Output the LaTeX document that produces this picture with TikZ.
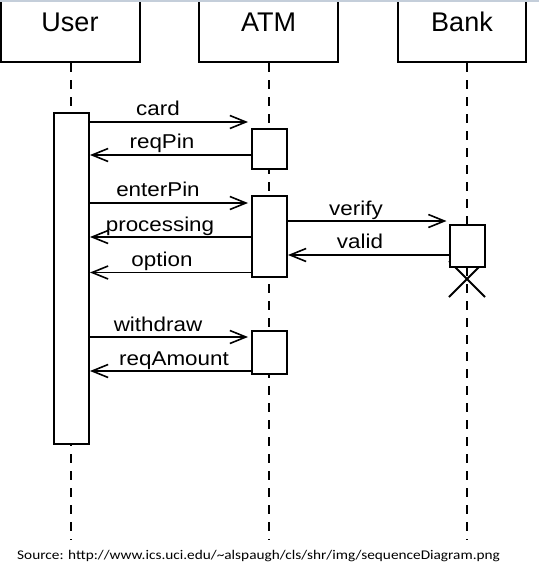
\documentclass[tikz,border=0pt]{standalone}
\usepackage{fontspec}
\setmainfont{Liberation Sans}
\newfontfamily\lblfont[FakeStretch=1.12]{Liberation Sans}
\newfontfamily\srcfont[FakeStretch=1.15]{Carlito}
\usetikzlibrary{arrows.meta}
\definecolor{topline}{RGB}{196,206,218}

\begin{document}
\begin{tikzpicture}[x=1pt,y=-1pt,
	obj/.style={draw, line width=2pt, minimum height=76pt, anchor=south, inner sep=0pt,
		font=\fontsize{27}{31}\selectfont, text depth=4pt},
	act/.style={draw, fill=white, line width=2pt, minimum width=35pt, inner sep=0pt},
	life/.style={line width=1.8pt, dash pattern=on 9pt off 8pt},
	msg/.style={line width=1.6pt, -{Straight Barb[length=16pt,width=13pt,line width=1.6pt]}},
	lbl/.style={anchor=base, inner sep=0pt, font=\lblfont\fontsize{20}{23}\selectfont}]
	\useasboundingbox (0,0) rectangle (539,563);
	\clip (0,0) rectangle (539,563);

	%obiekty
	\node[obj, minimum width=139pt] (user) at (70,63) {User};
	\node[obj, minimum width=139pt] (atm) at (268.5,63) {ATM};
	\node[obj, minimum width=128pt] (bank) at (462,63) {Bank};
	\draw[topline, line width=1.5pt] (0,0.75) -- (539,0.75);

	%linie zycia
	\coordinate (uend) at (71,540);
	\coordinate (aend) at (269,540);
	\coordinate (bend) at (467,540);
	\foreach \n/\e in {user/uend, atm/aend, bank/bend}
		\draw[life] (\e |- \n.south) -- (\e);

	%zniszczenie
	\draw[line width=1.8pt] (449,261) -- (485,297) (485,261) -- (449,297);

	%aktywacje
	\node[act, minimum height=331pt] (uact) at (71.5,278.5) {};
	\node[act, minimum height=40pt] (atm1) at (269.5,149) {};
	\node[act, minimum height=81pt] (atm2) at (269.5,236.5) {};
	\node[act, minimum height=43pt] (atm3) at (269.5,352.5) {};
	\node[act, minimum height=42pt] (bact) at (467,246) {};

	%komunikaty
	\draw[msg, shorten >=3pt] (uact.east |- 0,122) -- (atm1.west |- 0,122);
	\draw[msg] (atm1.west |- 0,155) -- (uact.east |- 0,155);
	\draw[msg, shorten >=3pt] (uact.east |- 0,203) -- (atm2.west |- 0,203);
	\draw[msg] (atm2.west |- 0,237) -- (uact.east |- 0,237);
	\draw[msg] (atm2.west |- 0,272.5) -- (uact.east |- 0,272.5);
	\draw[msg, shorten >=2pt] (atm2.east |- 0,221) -- (bact.west |- 0,221);
	\draw[msg] (bact.west |- 0,255) -- (atm2.east |- 0,255);
	\draw[msg, shorten >=3pt] (uact.east |- 0,337) -- (atm3.west |- 0,337);
	\draw[msg] (atm3.west |- 0,371) -- (uact.east |- 0,371);

	%etykiety
	\node[lbl] (lcard) at (158,115) {card};
	\node[lbl] (lreqpin) at (162,148.5) {reqPin};
	\node[lbl] (lenterpin) at (158,196.5) {enterPin};
	\node[lbl] (lprocessing) at (160,231.5) {processing};
	\node[lbl] (loption) at (162,266) {option};
	\node[lbl] (lverify) at (356,215) {verify};
	\node[lbl] (lvalid) at (360,248.5) {valid};
	\node[lbl] (lwithdraw) at (158,331) {withdraw};
	\node[lbl] (lreqamount) at (174,365) {reqAmount};

	%zrodlo
	\node[anchor=base west, inner sep=0pt, font=\srcfont\fontsize{13.3}{15}\selectfont] (src) at (17,559)
		{Source: http://www.ics.uci.edu/\textasciitilde alspaugh/cls/shr/img/sequenceDiagram.png};
\end{tikzpicture}
\end{document}
